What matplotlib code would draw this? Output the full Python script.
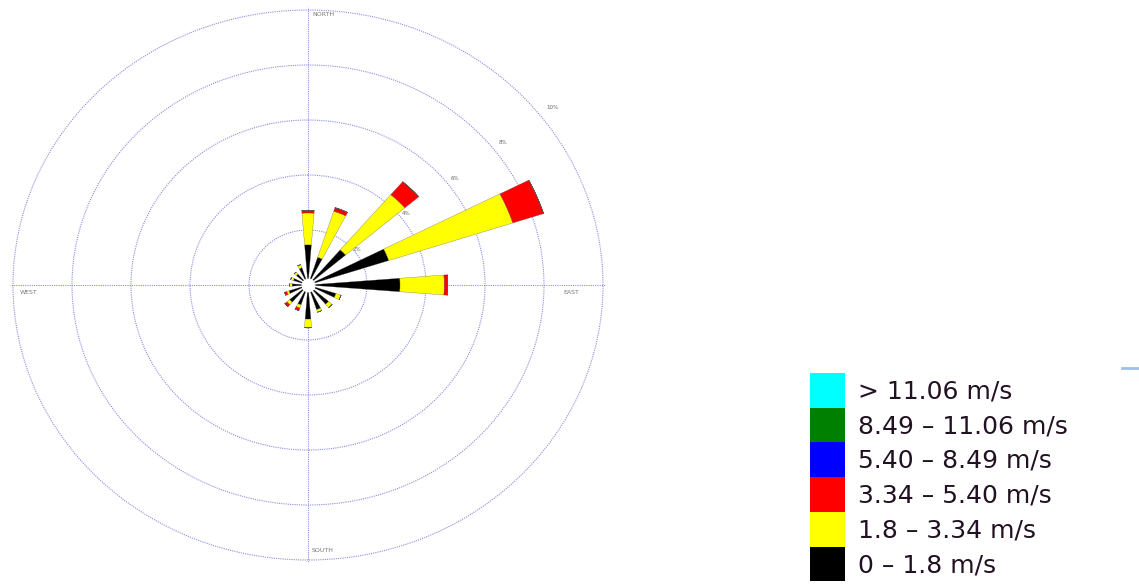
import numpy as np
import matplotlib
matplotlib.use("Agg")
import matplotlib.pyplot as plt
from matplotlib.patches import Patch

# wind directions (degrees, clockwise from north)
directions = [0, 22.5, 45, 67.5, 90, 112.5, 135, 157.5,
              180, 202.5, 225, 247.5, 270, 292.5, 315, 337.5]

# frequency (%) per speed class, one value per direction
freq_0_18 = [1.46, 1.06, 1.68, 2.88, 3.12, 1.00, 0.92, 0.94,
             1.24, 0.76, 0.82, 0.68, 0.54, 0.52, 0.52, 0.66]
freq_18_334 = [1.16, 1.76, 2.64, 4.42, 1.50, 0.18, 0.16, 0.10,
               0.32, 0.12, 0.12, 0.08, 0.08, 0.10, 0.10, 0.12]
freq_334_540 = [0.10, 0.14, 0.62, 1.10, 0.12, 0.0, 0.0, 0.0,
                0.0, 0.10, 0.10, 0.08, 0.0, 0.0, 0.0, 0.0]
freq_540_849 = [0.0] * 16
freq_849_1106 = [0.0] * 16
freq_gt_1106 = [0.0] * 16

speed_labels = ["0 \u2013 1.8 m/s", "1.8 \u2013 3.34 m/s", "3.34 \u2013 5.40 m/s",
                "5.40 \u2013 8.49 m/s", "8.49 \u2013 11.06 m/s", "> 11.06 m/s"]
speed_colors = ["#000000", "#ffff00", "#ff0000", "#0000ff", "#008000", "#00ffff"]

ring_values = [2, 4, 6, 8, 10]
ring_labels = ["2%", "4%", "6%", "8%", "10%"]
compass_labels = ["NORTH", "EAST", "SOUTH", "WEST"]

W, H = 1139, 585
fig = plt.figure(figsize=(W / 100, H / 100), dpi=100)

# polar axes, slightly stretched like the original
rmax = 10.1
sx = 295 * rmax / 10
sy = 275 * rmax / 10
ax = fig.add_axes([(308 - sx) / W, (300 - sy) / H, 2 * sx / W, 2 * sy / H],
                  projection="polar")
ax.set_aspect("auto")
ax.set_theta_zero_location("N")
ax.set_theta_direction(-1)
ax.set_rlim(0, rmax)

ax.set_rgrids(ring_values, labels=[""] * len(ring_values))
ax.set_thetagrids([0, 90, 180, 270], labels=[""] * 4)
ax.grid(True, color="#8c8ce0", linestyle=(0, (1, 1)), linewidth=0.8)
ax.spines["polar"].set_visible(False)

# ring labels
for rv, rl in zip(ring_values, ring_labels):
    ax.text(np.deg2rad(52), rv * 1.05, rl, fontsize=4, color="#666666",
            ha="center", va="center", clip_on=False, zorder=1)

# stacked bars
theta = np.deg2rad(directions)
width = np.deg2rad(9)
series = [freq_0_18, freq_18_334, freq_334_540, freq_540_849, freq_849_1106, freq_gt_1106]
bottom = np.zeros(len(directions))
for vals, col in zip(series, speed_colors):
    vals = np.array(vals)
    ax.bar(theta, vals, width=width, bottom=bottom, color=col,
           edgecolor="#555555", linewidth=0.2, zorder=3)
    bottom = bottom + vals

# white hole at the centre
ax.plot([0], [0], "o", color="white", markersize=9, zorder=5)

# compass labels (text placed just beside the axis lines)
lbl_kw = dict(transform=fig.transFigure, fontsize=4.5, color="#777777",
              ha="left", va="center")
fig.text(312 / W, 1 - 15 / H, compass_labels[0], **lbl_kw)
fig.text(563 / W, 1 - 292 / H, compass_labels[1], **lbl_kw)
fig.text(312 / W, 1 - 550 / H, compass_labels[2], **lbl_kw)
fig.text(20 / W, 1 - 292 / H, compass_labels[3], **lbl_kw)

# legend
handles = [Patch(facecolor=c, edgecolor="none", label=l)
           for c, l in zip(speed_colors, speed_labels)][::-1]
fig.legend(handles=handles, loc="upper left",
           bbox_to_anchor=(810 / W, 1 - 373 / H), frameon=False,
           fontsize=18, borderpad=0, borderaxespad=0, labelspacing=0,
           handlelength=1.4, handleheight=1.76, handletextpad=0.5,
           labelcolor="#221122")

# small line fragment top right
fig.add_artist(plt.Line2D([1122 / W, 1.0], [1 - 368 / H, 1 - 368 / H],
                          transform=fig.transFigure, color="#9ec0e8", linewidth=2))

fig.savefig("out.png", dpi=100)
